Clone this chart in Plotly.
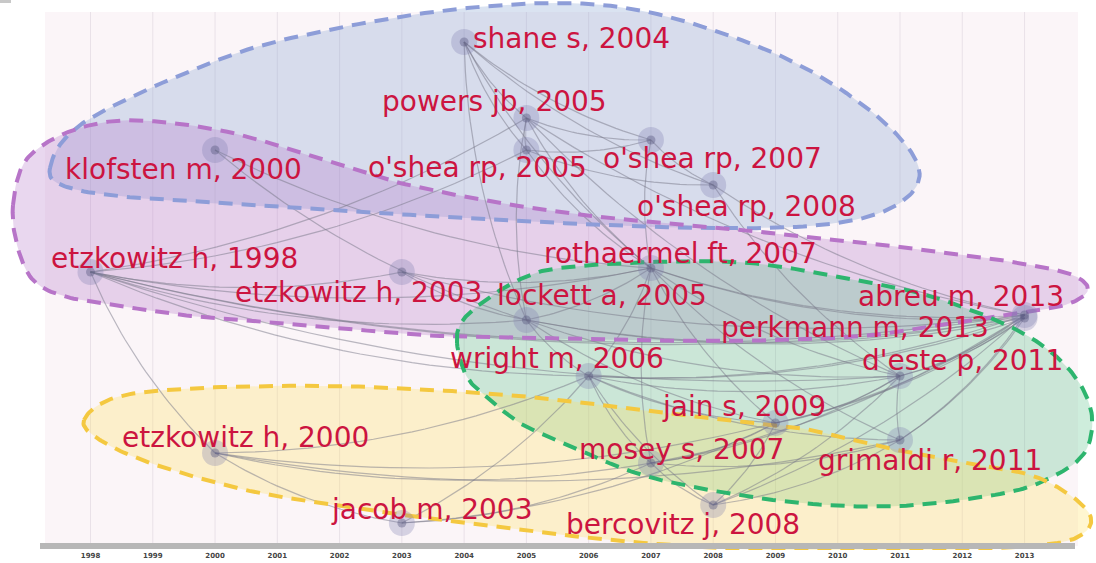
import numpy as np
import plotly.graph_objects as go

# ---------------- data ----------------
YEARS = list(range(1998, 2014))
YEAR_TEXT = [str(y) for y in YEARS]

LABELS = [
    "shane s, 2004", "powers jb, 2005", "o'shea rp, 2005", "o'shea rp, 2007",
    "o'shea rp, 2008", "klofsten m, 2000", "etzkowitz h, 1998", "etzkowitz h, 2003",
    "rothaermel ft, 2007", "lockett a, 2005", "abreu m, 2013", "perkmann m, 2013",
    "wright m, 2006", "d'este p, 2011", "jain s, 2009", "etzkowitz h, 2000",
    "mosey s, 2007", "grimaldi r, 2011", "jacob m, 2003", "bercovitz j, 2008",
]
NODE_YEAR = [2004, 2005, 2005, 2007, 2008, 2000, 1998, 2003, 2007, 2005,
             2013, 2013, 2006, 2011, 2009, 2000, 2007, 2011, 2003, 2008]
# vertical lane of each node in the timeline layout (0 = top, 550 = axis)
NODE_LANE = [42, 118, 150, 140, 185, 150, 272, 272, 268, 320,
             315, 318, 376, 376, 423, 453, 463, 440, 523, 505]

EDGES = [
    (0, 1), (0, 2), (0, 3), (0, 4), (0, 8), (0, 9),
    (1, 2), (1, 3), (1, 8), (1, 13), (1, 10), (1, 9), (6, 1), (6, 2),
    (5, 8), (5, 9), (2, 3), (2, 4), (2, 8), (3, 4), (3, 8), (4, 10), (4, 13),
    (6, 7), (6, 9), (6, 8), (6, 12), (6, 13), (6, 10), (6, 15), (6, 11),
    (7, 9), (7, 8), (7, 10),
    (15, 18), (15, 12), (15, 16), (15, 17), (15, 14),
    (18, 12), (18, 14), (18, 16),
    (19, 14), (19, 13), (19, 10), (19, 17), (19, 16), (19, 12),
    (16, 13), (16, 10), (16, 14), (16, 17), (8, 16), (12, 16),
    (12, 13), (12, 10), (8, 12), (9, 12), (12, 14), (12, 17), (12, 11),
    (8, 10), (8, 11), (8, 13), (9, 8), (8, 14), (8, 17),
    (9, 10), (9, 11), (9, 13), (9, 14),
    (13, 10), (13, 11), (13, 17), (14, 13),
    (17, 10), (17, 11), (14, 10), (14, 11),
]

# ---------------- layout helpers (style / geometry) ----------------
W, H = 1096, 563
PX0, PXY = 90.5, 62.27          # pixel of first year, pixels per year
MB = 13
X_RANGE = [YEARS[0] - PX0 / PXY, YEARS[0] + (W - PX0) / PXY]
Y_RANGE = [H - MB, 0]


def px2x(px):
    return YEARS[0] + (np.asarray(px, float) - PX0) / PXY


def x2px(x):
    return PX0 + (np.asarray(x, float) - YEARS[0]) * PXY


# label offsets from node (pixels, right / down)
LABEL_OFFSET = [
    (107, -4), (-32, -17), (-49, 17), (62, 18), (33, 21), (-32, 19), (84, -14),
    (-43, 20), (30, -15), (76, -25), (-64, -19), (-170, 9), (-32, -18), (62, -16),
    (-31, -17), (30, -16), (31, -14), (30, 20), (30, -14), (-30, 19),
]

# cluster hull outlines (pixel space)
HULLS = [
    dict(fill="rgba(134,162,208,0.30)", line="#8d9dd8", pts=[
        (50, 168), (83, 123), (200, 67), (300, 36), (467, 8), (620, 7), (767, 50),
        (867, 108), (918, 165), (900, 203), (830, 224), (700, 228), (500, 220),
        (300, 208), (150, 199), (70, 188)]),
    dict(fill="rgba(181,122,201,0.30)", line="#b774c8", pts=[
        (13, 205), (24, 163), (55, 138), (100, 123), (150, 121), (233, 133),
        (333, 163), (400, 183), (500, 203), (600, 217), (700, 226), (800, 236),
        (900, 247), (1000, 260), (1067, 273), (1088, 289), (1068, 304),
        (1020, 313), (940, 326), (850, 337), (720, 341), (600, 339), (440, 336),
        (283, 323), (200, 317), (133, 308), (67, 297), (33, 280), (17, 245)]),
    dict(fill="rgba(80,190,130,0.28)", line="#2db56e", pts=[
        (457, 343), (463, 320), (490, 297), (523, 278), (560, 268), (650, 262),
        (750, 263), (850, 279), (933, 297), (1017, 330), (1067, 367), (1091, 410),
        (1085, 452), (1050, 478), (1000, 494), (900, 506), (800, 503), (693, 487),
        (627, 470), (565, 443), (523, 425), (490, 400), (467, 377)]),
    dict(fill="rgba(255,225,100,0.30)", line="#f4c840", pts=[
        (84, 420), (117, 397), (200, 388), (333, 386), (467, 392), (560, 400),
        (640, 410), (727, 420), (800, 428), (883, 447), (960, 462), (1027, 474),
        (1067, 493), (1090, 515), (1084, 533), (1050, 544), (950, 550), (800, 551),
        (700, 547), (600, 539), (500, 527), (433, 519), (300, 500), (233, 487),
        (150, 463), (100, 440)]),
]


def smooth_closed(pts, n=16):
    P = np.array(pts, float)
    N = len(P)
    out = []
    for i in range(N):
        p0, p1, p2, p3 = P[(i - 1) % N], P[i], P[(i + 1) % N], P[(i + 2) % N]
        for t in np.linspace(0, 1, n, endpoint=False):
            t2, t3 = t * t, t * t * t
            out.append(0.5 * ((2 * p1) + (-p0 + p2) * t
                              + (2 * p0 - 5 * p1 + 4 * p2 - p3) * t2
                              + (-p0 + 3 * p1 - 3 * p2 + p3) * t3))
    out.append(out[0])
    return np.array(out)


fig = go.Figure()

# year grid lines
gx, gy = [], []
for y in YEARS:
    gx += [y, y, None]
    gy += [12, 545, None]
fig.add_trace(go.Scatter(x=gx, y=gy, mode="lines", line=dict(color="#e9e1e8", width=1),
                         hoverinfo="skip", showlegend=False))

# hull fills
curves = []
for h in HULLS:
    c = smooth_closed(h["pts"])
    curves.append(c)
    fig.add_trace(go.Scatter(x=px2x(c[:, 0]), y=c[:, 1], mode="lines", fill="toself",
                             fillcolor=h["fill"], line=dict(width=0),
                             hoverinfo="skip", showlegend=False))

# edges (curved)
ex, ey = [], []
for a, b in EDGES:
    pa = np.array([x2px(NODE_YEAR[a]), NODE_LANE[a]], float)
    pb = np.array([x2px(NODE_YEAR[b]), NODE_LANE[b]], float)
    if pb[0] < pa[0] or (pb[0] == pa[0] and pb[1] < pa[1]):
        pa, pb = pb, pa
    d = pb - pa
    L = np.hypot(*d)
    if L == 0:
        continue
    perp = np.array([-d[1], d[0]]) / L
    ctrl = (pa + pb) / 2 + perp * 0.10 * L
    t = np.linspace(0, 1, 30)[:, None]
    pts = (1 - t) ** 2 * pa + 2 * (1 - t) * t * ctrl + t ** 2 * pb
    ex += list(px2x(pts[:, 0])) + [None]
    ey += list(pts[:, 1]) + [None]
fig.add_trace(go.Scatter(x=ex, y=ey, mode="lines",
                         line=dict(color="rgba(120,120,135,0.50)", width=1.2),
                         hoverinfo="skip", showlegend=False))

# hull dashed outlines
for h, c in zip(HULLS, curves):
    fig.add_trace(go.Scatter(x=px2x(c[:, 0]), y=c[:, 1], mode="lines",
                             line=dict(color=h["line"], width=4, dash="14px,9px"),
                             hoverinfo="skip", showlegend=False))

# nodes
fig.add_trace(go.Scatter(x=NODE_YEAR, y=NODE_LANE, mode="markers",
                         marker=dict(size=26, color="rgba(125,125,175,0.30)", line=dict(width=0)),
                         hoverinfo="skip", showlegend=False))
fig.add_trace(go.Scatter(x=NODE_YEAR, y=NODE_LANE, mode="markers",
                         marker=dict(size=9, color="rgba(85,85,125,0.40)", line=dict(width=0)),
                         hovertext=LABELS, hoverinfo="text", showlegend=False))

# labels
for lab, xv, yv, (dx, dy) in zip(LABELS, NODE_YEAR, NODE_LANE, LABEL_OFFSET):
    fig.add_annotation(x=xv, y=yv, xshift=dx, yshift=-dy, text=lab, showarrow=False,
                       xanchor="center", yanchor="middle",
                       font=dict(family="DejaVu Sans", size=28, color="#cc1440"))

# background panel, axis bar, small corner mark
fig.add_shape(type="rect", xref="x", yref="y", x0=float(px2x(45)), x1=float(px2x(1078)),
              y0=12, y1=546, fillcolor="#fbf5f8", line=dict(width=0), layer="below")
fig.add_shape(type="rect", xref="x", yref="y", x0=float(px2x(40)), x1=float(px2x(1075)),
              y0=543, y1=549, fillcolor="#b7b7b7", line=dict(width=0), layer="above")
fig.add_shape(type="rect", xref="x", yref="y", x0=float(px2x(0)), x1=float(px2x(11)),
              y0=0, y1=3, fillcolor="#c8c8c8", line=dict(width=0), layer="above")

fig.update_layout(
    width=W, height=H,
    margin=dict(l=0, r=0, t=0, b=MB),
    paper_bgcolor="white", plot_bgcolor="white",
    xaxis=dict(range=X_RANGE, tickvals=YEARS, ticktext=YEAR_TEXT, showgrid=False,
               zeroline=False, showline=False, ticks="", fixedrange=True,
               tickfont=dict(family="DejaVu Sans", size=7, color="#444", weight="bold")),
    yaxis=dict(range=Y_RANGE, visible=False, showgrid=False, zeroline=False, fixedrange=True),
    hovermode="closest",
)

fig.write_html("out.html", config={"displayModeBar": False},
               post_script="document.body.style.margin='0';document.body.style.overflow='hidden';")
